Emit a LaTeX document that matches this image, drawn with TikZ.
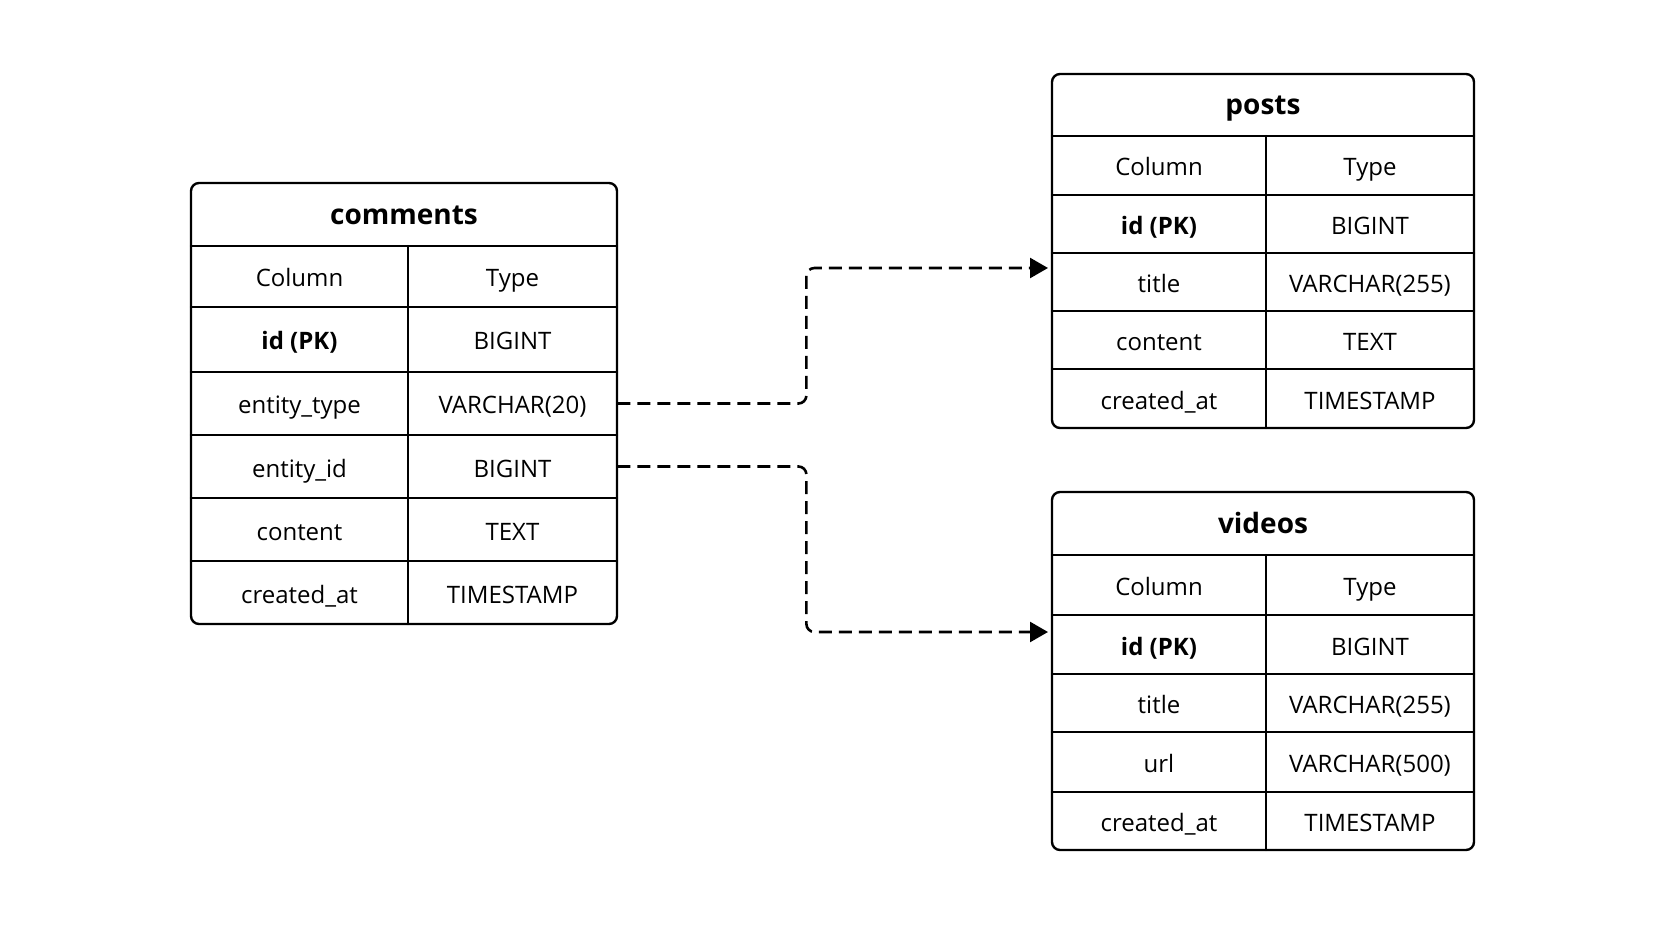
\documentclass[tikz,border=0pt]{standalone}
\usepackage{fontspec}
\setmainfont{Open Sans}
\usetikzlibrary{arrows.meta}

\begin{document}
\begin{tikzpicture}[x=0.5pt, y=-0.5pt, line join=round, line cap=round,
    frame/.style={line width=1.2pt, rounded corners=4pt},
    rule/.style={line width=1.2pt},
    cell/.style={inner sep=0pt, text height=12.5pt, text depth=2pt, font=\fontsize{12}{14}\selectfont},
    pkcell/.style={cell, font=\fontsize{12}{14}\selectfont\bfseries},
    tcell/.style={cell, minimum width=104.5pt, minimum height=31.5pt},
    head/.style={inner sep=0pt, text height=12pt, text depth=2pt, font=\fontsize{14}{16}\selectfont\bfseries},
    fk/.style={line width=1.3pt, line cap=butt, dash pattern=on 6.5pt off 3.5pt, rounded corners=4pt, -{Triangle[length=9pt, width=10pt]}}]

    % Background
    \fill[white] (0,0) rectangle (1672,941);

    % Table comments
    \draw[frame] (191,183) rectangle (617,624);
    \draw[rule] (191,246) -- (617,246);
    \draw[rule] (191,307) -- (617,307);
    \draw[rule] (191,372) -- (617,372);
    \draw[rule] (191,435) -- (617,435);
    \draw[rule] (191,498) -- (617,498);
    \draw[rule] (191,561) -- (617,561);
    \draw[rule] (408,246) -- (408,624);

    \node[head] (c-head) at (404,214.5) {comments};
    \node[cell]   (c-col)   at (299.5,276.5) {Column};
    \node[tcell]  (c-type)  at (512.5,276.5) {Type};
    \node[pkcell] (c-id)    at (299.5,339.5) {id (PK)};
    \node[tcell]  (c-idt)   at (512.5,339.5) {BIGINT};
    \node[cell]   (c-et)    at (299.5,403.5) {entity\_type};
    \node[tcell]  (c-ett)   at (512.5,403.5) {VARCHAR(20)};
    \node[cell]   (c-ei)    at (299.5,466.5) {entity\_id};
    \node[tcell]  (c-eit)   at (512.5,466.5) {BIGINT};
    \node[cell]   (c-co)    at (299.5,529.5) {content};
    \node[tcell]  (c-cot)   at (512.5,529.5) {TEXT};
    \node[cell]   (c-ca)    at (299.5,592.5) {created\_at};
    \node[tcell]  (c-cat)   at (512.5,592.5) {TIMESTAMP};

    % Table posts
    \draw[frame] (1052,74) rectangle (1474,428);
    \draw[rule] (1052,136) -- (1474,136);
    \draw[rule] (1052,195) -- (1474,195);
    \draw[rule] (1052,253) -- (1474,253);
    \draw[rule] (1052,311) -- (1474,311);
    \draw[rule] (1052,369) -- (1474,369);
    \draw[rule] (1266,136) -- (1266,428);

    \node[head] (p-head) at (1263,105) {posts};
    \node[cell]   (p-col)  at (1159,165.5) {Column};
    \node[cell]   (p-type) at (1370,165.5) {Type};
    \node[pkcell] (p-id)   at (1159,224) {id (PK)};
    \node[cell]   (p-idt)  at (1370,224) {BIGINT};
    \node[cell]   (p-ti)   at (1159,282) {title};
    \node[cell]   (p-tit)  at (1370,282) {VARCHAR(255)};
    \node[cell]   (p-co)   at (1159,340) {content};
    \node[cell]   (p-cot)  at (1370,340) {TEXT};
    \node[cell]   (p-ca)   at (1159,398.5) {created\_at};
    \node[cell]   (p-cat)  at (1370,398.5) {TIMESTAMP};

    % Table videos
    \draw[frame] (1052,492) rectangle (1474,850);
    \draw[rule] (1052,555) -- (1474,555);
    \draw[rule] (1052,615) -- (1474,615);
    \draw[rule] (1052,674) -- (1474,674);
    \draw[rule] (1052,732) -- (1474,732);
    \draw[rule] (1052,792) -- (1474,792);
    \draw[rule] (1266,555) -- (1266,850);

    \node[head] (v-head) at (1263,523.5) {videos};
    \node[cell]   (v-col)  at (1159,585) {Column};
    \node[cell]   (v-type) at (1370,585) {Type};
    \node[pkcell] (v-id)   at (1159,644.5) {id (PK)};
    \node[cell]   (v-idt)  at (1370,644.5) {BIGINT};
    \node[cell]   (v-ti)   at (1159,703) {title};
    \node[cell]   (v-tit)  at (1370,703) {VARCHAR(255)};
    \node[cell]   (v-url)  at (1159,762) {url};
    \node[cell]   (v-urlt) at (1370,762) {VARCHAR(500)};
    \node[cell]   (v-ca)   at (1159,821) {created\_at};
    \node[cell]   (v-cat)  at (1370,821) {TIMESTAMP};

    % Arrow ends
    \coordinate (posts-in)  at (1048,268);
    \coordinate (videos-in) at (1048,632);

    % Polymorphic links
    \draw[fk] (c-ett.east) -- ++(189,0) |- (posts-in);
    \draw[fk] (c-eit.east) -- ++(189,0) |- (videos-in);

\end{tikzpicture}
\end{document}
